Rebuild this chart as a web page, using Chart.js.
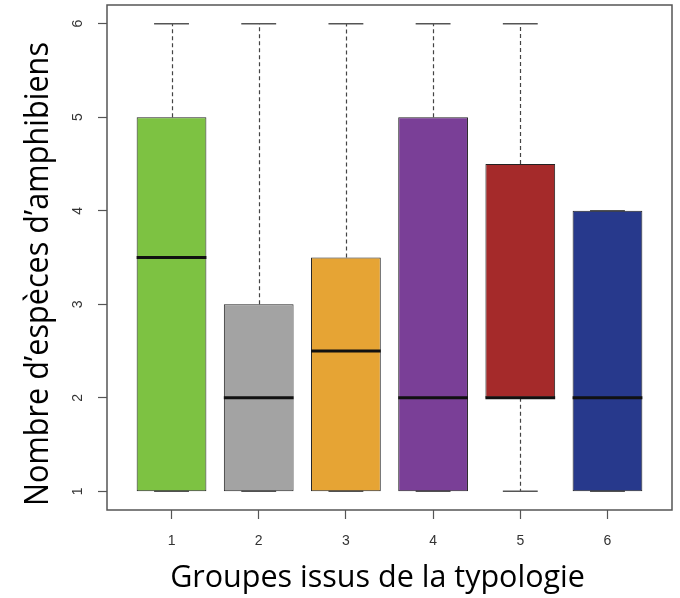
<!DOCTYPE html>
<html>
<head>
<meta charset="utf-8">
<script src="https://cdn.jsdelivr.net/npm/chart.js@4/dist/chart.umd.min.js"></script>
<style>
  html, body { margin: 0; padding: 0; background: #fff; }
  #wrap { width: 680px; height: 598px; }
</style>
</head>
<body>
<div id="wrap"><canvas id="c" width="680" height="598"></canvas></div>
<script>
// Five-number summaries per typology group
const groups      = [1, 2, 3, 4, 5, 6];
const whiskerLow  = [1, 1, 1, 1, 1, 1];
const quart1      = [1, 1, 1, 1, 2, 1];
const medians     = [3.5, 2, 2.5, 2, 2, 2];
const quart3      = [5, 3, 3.5, 5, 4.5, 4];
const whiskerHigh = [6, 6, 6, 6, 6, 4];
const yTicks      = [1, 2, 3, 4, 5, 6];
const xTicks      = [1, 2, 3, 4, 5, 6];
const boxColors   = ['#7dc242', '#a3a3a3', '#e6a434', '#7a3f97', '#a52a2a', '#27398c'];
const yTitle      = 'Nombre d’espèces d’amphibiens';
const xTitle      = 'Groupes issus de la typologie';

const tickFont = { family: '"Liberation Sans", Arial, sans-serif', size: 14 };
const titleFamily = '"Open Sans", "Noto Sans", sans-serif';

// Whiskers, caps, medians, frame, rotated y labels and axis titles
const boxplotMarks = {
  id: 'boxplotMarks',
  beforeDatasetsDraw(chart) {
    const { ctx, scales: { x, y } } = chart;
    ctx.save();
    groups.forEach((g, i) => {
      const cx = Math.round(x.getPixelForValue(g)) + 0.5;
      const capL = x.getPixelForValue(g - 0.2);
      const capR = x.getPixelForValue(g + 0.2);
      const yLo = y.getPixelForValue(whiskerLow[i]);
      const yQ1 = y.getPixelForValue(quart1[i]);
      const yQ3 = y.getPixelForValue(quart3[i]);
      const yHi = y.getPixelForValue(whiskerHigh[i]);
      ctx.strokeStyle = '#444';
      ctx.lineWidth = 1.2;
      ctx.setLineDash([4, 3]);
      ctx.beginPath();
      ctx.moveTo(cx, yQ3); ctx.lineTo(cx, yHi);
      ctx.moveTo(cx, yQ1); ctx.lineTo(cx, yLo);
      ctx.stroke();
      ctx.setLineDash([]);
      ctx.strokeStyle = '#555';
      ctx.lineWidth = 1.5;
      ctx.beginPath();
      ctx.moveTo(capL, yHi); ctx.lineTo(capR, yHi);
      ctx.moveTo(capL, yLo); ctx.lineTo(capR, yLo);
      ctx.stroke();
    });
    ctx.restore();
  },
  afterDatasetsDraw(chart) {
    const { ctx, scales: { y } } = chart;
    const meta = chart.getDatasetMeta(0);
    ctx.save();
    ctx.strokeStyle = '#111';
    ctx.lineWidth = 3;
    meta.data.forEach((bar, i) => {
      const ym = y.getPixelForValue(medians[i]);
      ctx.beginPath();
      ctx.moveTo(bar.x - bar.width / 2, ym);
      ctx.lineTo(bar.x + bar.width / 2, ym);
      ctx.stroke();
    });
    ctx.restore();
  },
  afterDraw(chart) {
    const { ctx, chartArea: a, scales: { y } } = chart;
    ctx.save();
    ctx.strokeStyle = '#555';
    ctx.lineWidth = 1.5;
    ctx.strokeRect(a.left, a.top, a.right - a.left, a.bottom - a.top);

    // rotated tick labels on the left axis
    ctx.fillStyle = '#333';
    ctx.font = `${tickFont.size}px ${tickFont.family}`;
    ctx.textAlign = 'center';
    ctx.textBaseline = 'middle';
    y.ticks.forEach(t => {
      const py = y.getPixelForValue(t.value);
      ctx.save();
      ctx.translate(a.left - 29, py);
      ctx.rotate(-Math.PI / 2);
      ctx.fillText(String(t.value), 0, 0);
      ctx.restore();
    });

    // axis titles
    ctx.fillStyle = '#000';
    ctx.textAlign = 'center';
    ctx.textBaseline = 'alphabetic';
    ctx.font = `32px ${titleFamily}`;
    ctx.save();
    ctx.translate(48, 274);
    ctx.rotate(-Math.PI / 2);
    ctx.scale(464 / ctx.measureText(yTitle).width, 1);
    ctx.fillText(yTitle, 0, 0);
    ctx.restore();

    ctx.font = `30.5px ${titleFamily}`;
    ctx.fillText(xTitle, 377.5, 587);
    ctx.restore();
  }
};

new Chart(document.getElementById('c'), {
  type: 'bar',
  data: {
    datasets: [{
      data: groups.map((g, i) => ({ x: g, y: [quart1[i], quart3[i]] })),
      backgroundColor: boxColors,
      borderColor: '#222',
      borderWidth: 1,
      borderSkipped: false,
      categoryPercentage: 0.8,
      barPercentage: 1
    }]
  },
  options: {
    responsive: false,
    animation: false,
    layout: { padding: { top: 5, right: 8, left: 0, bottom: 0 } },
    plugins: { legend: { display: false }, tooltip: { enabled: false } },
    scales: {
      x: {
        type: 'linear',
        offset: false,
        min: 0.26,
        max: 6.74,
        afterBuildTicks: s => { s.ticks = xTicks.map(v => ({ value: v })); },
        afterFit: s => { s.height = 88; },
        grid: { offset: false, drawOnChartArea: false, drawTicks: true, tickLength: 9, tickColor: '#555', tickWidth: 1.2 },
        border: { display: false },
        ticks: { font: tickFont, color: '#333', padding: 14, callback: v => String(v), maxRotation: 0, autoSkip: false }
      },
      y: {
        min: 0.8,
        max: 6.2,
        afterBuildTicks: s => { s.ticks = yTicks.map(v => ({ value: v })); },
        afterFit: s => { s.width = 107; },
        grid: { drawOnChartArea: false, drawTicks: true, tickLength: 9, tickColor: '#555', tickWidth: 1.2 },
        border: { display: false },
        ticks: { display: false }
      }
    }
  },
  plugins: [boxplotMarks]
});
</script>
</body>
</html>
